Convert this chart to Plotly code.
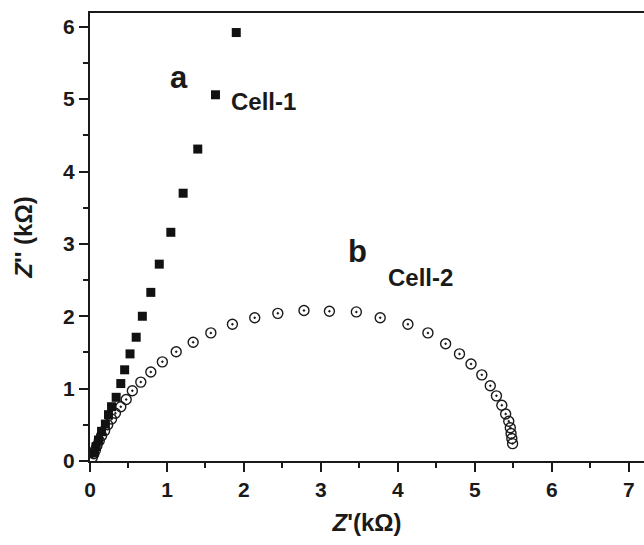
import plotly.graph_objects as go

# Nyquist data (Z' and Z'' in kOhm)
cell1_x = [0.05, 0.08, 0.11, 0.15, 0.20, 0.24, 0.28, 0.34, 0.40, 0.45, 0.52,
           0.60, 0.68, 0.79, 0.90, 1.05, 1.21, 1.40, 1.63, 1.90]
cell1_y = [0.11, 0.20, 0.29, 0.41, 0.51, 0.64, 0.75, 0.88, 1.07, 1.26, 1.48,
           1.71, 2.00, 2.33, 2.72, 3.16, 3.70, 4.31, 5.06, 5.92]

cell2_x = [0.03, 0.05, 0.07, 0.09, 0.12, 0.15, 0.19, 0.23, 0.28, 0.33, 0.40,
           0.47, 0.55, 0.66, 0.79, 0.94, 1.12, 1.34, 1.57, 1.85, 2.14, 2.44,
           2.78, 3.11, 3.46, 3.77, 4.13, 4.39, 4.62, 4.80, 4.95, 5.09, 5.20,
           5.28, 5.35, 5.40, 5.44, 5.46, 5.47, 5.48, 5.49]
cell2_y = [0.05, 0.10, 0.15, 0.21, 0.28, 0.35, 0.42, 0.50, 0.58, 0.66, 0.75,
           0.85, 0.97, 1.09, 1.23, 1.37, 1.51, 1.64, 1.77, 1.89, 1.98, 2.04,
           2.08, 2.07, 2.06, 1.98, 1.89, 1.77, 1.62, 1.48, 1.34, 1.19, 1.04,
           0.90, 0.77, 0.65, 0.55, 0.46, 0.38, 0.31, 0.24]

x_ticks = [0, 1, 2, 3, 4, 5, 6, 7]
y_ticks = [0, 1, 2, 3, 4, 5, 6]

ink = "#1a1a1a"
font_family = "Liberation Sans, Arial, sans-serif"

fig = go.Figure()
fig.add_trace(go.Scatter(
    x=cell2_x, y=cell2_y, mode="markers", name="Cell-2",
    marker=dict(symbol="circle-open-dot", size=10, color=ink,
                line=dict(width=1.4, color=ink)),
))
fig.add_trace(go.Scatter(
    x=cell1_x, y=cell1_y, mode="markers", name="Cell-1",
    marker=dict(symbol="square", size=9, color="#111111",
                line=dict(width=0)),
))

axis_common = dict(
    showgrid=False, zeroline=False, showline=True, linecolor=ink,
    linewidth=2, ticks="outside", ticklen=9, tickwidth=2, tickcolor=ink,
    tickfont=dict(family=font_family, size=21, color=ink, weight="bold"),
    minor=dict(ticks="outside", ticklen=5, tickwidth=2, tickcolor=ink,
               dtick=0.5),
)

fig.update_xaxes(
    **axis_common, range=[0, 7.197], tickvals=x_ticks, mirror=True,
    title=dict(text="<i>Z</i>'(kΩ)", standoff=14,
               font=dict(family=font_family, size=24, color=ink,
                         weight="bold")),
)
fig.update_yaxes(
    **axis_common, range=[0, 6.19], tickvals=y_ticks,
    title=dict(text="<i>Z</i>'' (kΩ)", standoff=24,
               font=dict(family=font_family, size=24, color=ink,
                         weight="bold")),
)

labels = [
    ("a", 1.15, 5.30, 31),
    ("Cell-1", 2.25, 4.97, 24),
    ("b", 3.48, 2.90, 31),
    ("Cell-2", 4.29, 2.53, 24),
]
for text, x, y, size in labels:
    fig.add_annotation(
        x=x, y=y, text=text, showarrow=False, xref="x", yref="y",
        font=dict(family=font_family, size=size, color=ink, weight="bold"),
    )

fig.update_layout(
    width=644, height=545, showlegend=False,
    margin=dict(l=90, r=0, t=13, b=84),
    plot_bgcolor="white", paper_bgcolor="white",
)

fig.write_html("out.html")
